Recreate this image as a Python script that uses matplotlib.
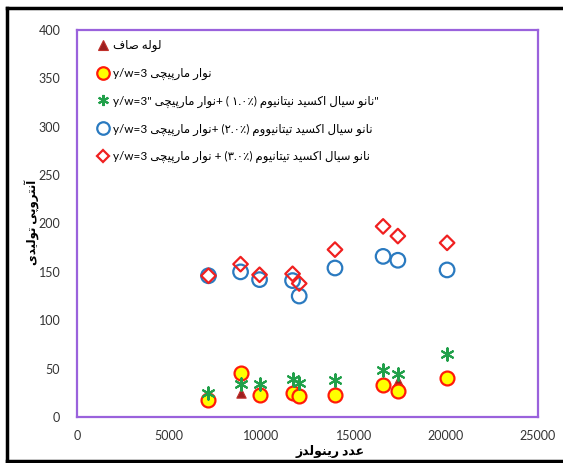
import matplotlib
matplotlib.use("Agg")
import matplotlib.pyplot as plt
from matplotlib.lines import Line2D

# ---- data -------------------------------------------------------------
reynolds = [7130, 8870, 9900, 11690, 12050, 13990, 16600, 17400, 20070]
plain_tube = [19, 25, 23, 27, 22, 27, 33, 37, 42]
tape_yw3 = [18, 45, 23, 24.5, 22, 23, 33, 27, 40]
tape_tio2_01 = [24.5, 34, 34, 39, 35, 38, 49, 44, 65]
tape_tio2_02 = [146, 150, 142, 141, 125, 154, 166, 162, 152]
tape_tio2_03 = [146, 158, 147, 148, 138, 173, 197, 187, 180]

x_ticks = [0, 5000, 10000, 15000, 20000, 25000]
y_ticks = [0, 50, 100, 150, 200, 250, 300, 350, 400]

# ---- minimal Persian shaping (presentation forms + RTL order) --------
DUAL = {'ب': 0xFE8F, 'پ': 0xFB56, 'ت': 0xFE95, 'ث': 0xFE99, 'ج': 0xFE9D,
        'چ': 0xFB7A, 'ح': 0xFEA1, 'خ': 0xFEA5, 'س': 0xFEB1, 'ش': 0xFEB5,
        'ص': 0xFEB9, 'ض': 0xFEBD, 'ط': 0xFEC1, 'ظ': 0xFEC5, 'ع': 0xFEC9,
        'غ': 0xFECD, 'ف': 0xFED1, 'ق': 0xFED5, 'ک': 0xFB8E, 'گ': 0xFB92,
        'ل': 0xFEDD, 'م': 0xFEE1, 'ن': 0xFEE5, 'ه': 0xFEE9, 'ی': 0xFBFC,
        'ئ': 0xFE89}
RIGHT = {'ا': 0xFE8D, 'آ': 0xFE81, 'أ': 0xFE83, 'إ': 0xFE87, 'د': 0xFEA9,
         'ذ': 0xFEAB, 'ر': 0xFEAD, 'ز': 0xFEAF, 'ژ': 0xFB8A, 'و': 0xFEED,
         'ؤ': 0xFE85}


def rtl(text):
    out = []
    n = len(text)
    for i, c in enumerate(text):
        prev_c = text[i - 1] if i > 0 else ''
        next_c = text[i + 1] if i < n - 1 else ''
        joins_prev = prev_c in DUAL
        joins_next = next_c in DUAL or next_c in RIGHT
        if c in DUAL:
            base = DUAL[c]
            if joins_prev and joins_next:
                out.append(chr(base + 3))
            elif joins_next:
                out.append(chr(base + 2))
            elif joins_prev:
                out.append(chr(base + 1))
            else:
                out.append(chr(base))
        elif c in RIGHT:
            out.append(chr(RIGHT[c] + (1 if joins_prev else 0)))
        else:
            out.append(c)
    return ''.join(reversed(out))


tape = rtl('نوار مارپیچی')
labels = [
    rtl('لوله صاف'),
    'y/w=3 ' + tape,
    'y/w=3" ' + tape + '+ ( ۱.۰٪) ' + rtl('نانو سیال اکسید نیتانیوم') + '"',
    'y/w=3 ' + tape + '+ (۲.۰٪) ' + rtl('نانو سیال اکسید تیتانیووم'),
    'y/w=3 ' + tape + ' + (۳.۰٪) ' + rtl('نانو سیال اکسید تیتانیوم'),
]
x_title = rtl('عدد رینولدز')
y_title = rtl('آنتروپی تولیدی')

# ---- figure ---------------------------------------------------------
W, H = 563, 463
fig = plt.figure(figsize=(W / 100, H / 100), dpi=100)
ax = fig.add_axes([77 / W, 1 - 417 / H, (538 - 77) / W, (417 - 30) / H])

fonts = ['Lato', 'DejaVu Sans']

styles = [
    dict(marker='^', s=45, c='#9c1f1f', edgecolors='#c0302a', linewidths=0.8),
    dict(marker='o', s=100, c='#ffff00', edgecolors='#ff1a0a', linewidths=1.6),
    dict(marker=(6, 2, 0), s=80, c='#21a04a', linewidths=1.5),
    dict(marker='o', s=110, facecolors='none', edgecolors='#2a7ac0', linewidths=1.6),
    dict(marker='D', s=55, facecolors='none', edgecolors='#f02020', linewidths=1.6),
]
series = [plain_tube, tape_yw3, tape_tio2_01, tape_tio2_02, tape_tio2_03]
for vals, st in zip(series, styles):
    ax.scatter(reynolds, vals, zorder=3, **st)

ax.set_xlim(0, 25000)
ax.set_ylim(0, 400)
ax.set_xticks(x_ticks)
ax.set_yticks(y_ticks)
ax.tick_params(length=0, labelsize=9, labelcolor='#333333')
ax.tick_params(axis='x', pad=9)
ax.tick_params(axis='y', pad=12)
for lab in ax.get_xticklabels() + ax.get_yticklabels():
    lab.set_fontfamily(fonts)
for sp in ax.spines.values():
    sp.set_color('#9a62dc')
    sp.set_linewidth(1.6)

fig.text(330 / W, 1 - 452 / H, x_title, ha='center', va='center',
         fontsize=9, fontweight='bold', family=fonts)
fig.text(32 / W, 1 - 222 / H, y_title, ha='center', va='center',
         rotation=90, fontsize=8.5, fontweight='bold', family=fonts)

handles = [
    Line2D([], [], ls='none', marker='^', ms=7, mfc='#9c1f1f', mec='#c0302a', mew=0.8),
    Line2D([], [], ls='none', marker='o', ms=9, mfc='#ffff00', mec='#ff1a0a', mew=1.6),
    Line2D([], [], ls='none', marker=(6, 2, 0), ms=8, color='#21a04a', mew=1.5),
    Line2D([], [], ls='none', marker='o', ms=9, mfc='none', mec='#2a7ac0', mew=1.6),
    Line2D([], [], ls='none', marker='D', ms=6.5, mfc='none', mec='#f02020', mew=1.6),
]
leg = ax.legend(handles, labels, loc='upper left', bbox_to_anchor=(0.02, 1.002),
                frameon=False, handlelength=1.0, handletextpad=0.4,
                labelspacing=1.33, prop={'family': fonts, 'size': 8.5})

# outer black frame
frame = dict(color='black', lw=2.5, transform=fig.transFigure, clip_on=False)
fig.add_artist(Line2D([7 / W, 1.01], [1 - 8 / H, 1 - 8 / H], **frame))
fig.add_artist(Line2D([7 / W, 7 / W], [1 - 8 / H, 1 - 461 / H], **frame))
fig.add_artist(Line2D([7 / W, 1.01], [1 - 461 / H, 1 - 461 / H], **frame))

fig.savefig('out.png', dpi=100)
